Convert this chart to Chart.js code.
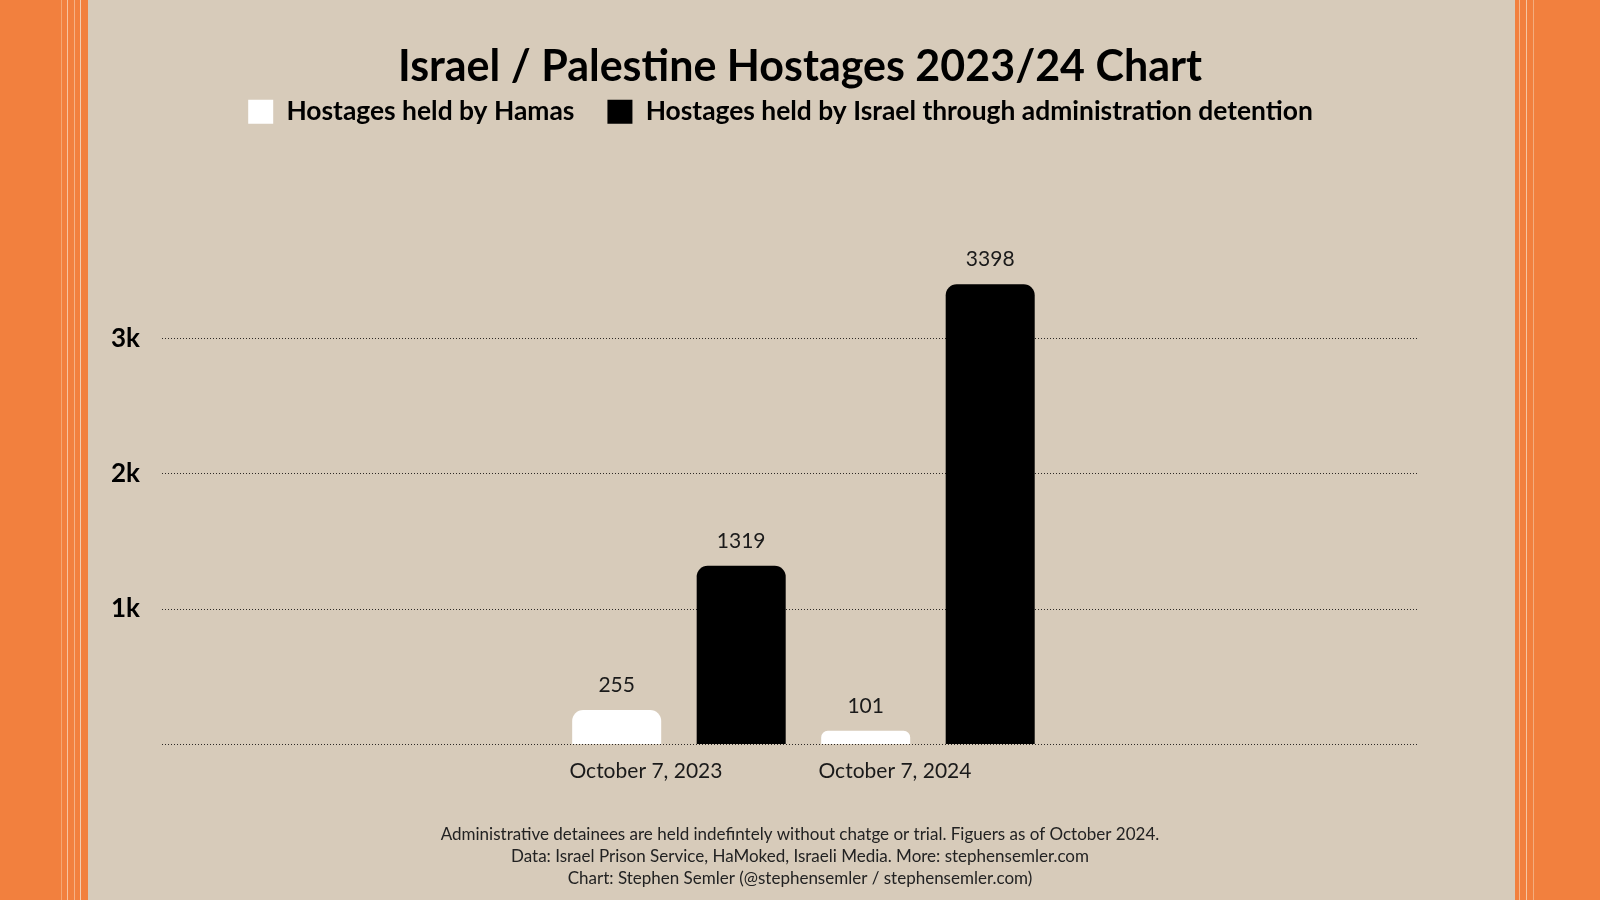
<!DOCTYPE html>
<html>
<head>
<meta charset="utf-8">
<script src="https://cdn.jsdelivr.net/npm/chart.js@4.4.1/dist/chart.umd.min.js"></script>
<style>
  html, body { margin: 0; padding: 0; }
  body {
    width: 1600px;
    height: 900px;
    overflow: hidden;
    background: linear-gradient(to right,
      #f2803e 0 61px, #f4a774 61px 62px, #f2803e 62px 67px, #f6c3a0 67px 68px,
      #f2803e 68px 74px, #f5b185 74px 75px, #f2803e 75px 80px, #f3cdb2 80px 81px,
      #f2803e 81px 88px, #d7cbba 88px 1515px,
      #f2803e 1515px 1519px, #f5b88e 1519px 1520px, #f2803e 1520px 1526px,
      #f6c6a3 1526px 1527px, #f2803e 1527px 1533px, #f4ad7e 1533px 1534px,
      #f2803e 1534px 1600px);
  }
  #wrap { position: absolute; left: 0; top: 0; width: 1600px; height: 900px; }
</style>
</head>
<body>
<div id="wrap"><canvas id="hostages" width="1600" height="900"></canvas></div>
<script>
const categories = ["October 7, 2023", "October 7, 2024"];
const heldByHamas = [255, 101];
const heldByIsrael = [1319, 3398];
const yTicks = [0, 1000, 2000, 3000];

const FONT = "Lato, 'Open Sans', sans-serif";

// value labels over each bar
const valueLabels = {
  id: "valueLabels",
  afterDatasetsDraw(chart) {
    const ctx = chart.ctx;
    ctx.save();
    ctx.font = `21px ${FONT}`;
    ctx.fillStyle = "#1a1a1a";
    ctx.textAlign = "center";
    ctx.textBaseline = "middle";
    chart.data.datasets.forEach((ds, i) => {
      chart.getDatasetMeta(i).data.forEach((bar, j) => {
        ctx.fillText(ds.data[j].y, bar.x, bar.y - 25);
      });
    });
    ctx.restore();
  },
};

// the legend sits a little left of the plot centre in the original
const legendShift = {
  id: "legendShift",
  afterLayout(chart) {
    chart.legend.left -= 9;
    chart.legend.right -= 9;
  },
};

const ctx = document.getElementById("hostages").getContext("2d");

new Chart(ctx, {
  type: "bar",
  data: {
    datasets: [
      {
        label: "Hostages held by Hamas",
        data: heldByHamas.map((v, i) => ({ x: i, y: v })),
        backgroundColor: "#ffffff",
        borderWidth: 0,
        borderRadius: 11,
      },
      {
        label: "Hostages held by Israel through administration detention",
        data: heldByIsrael.map((v, i) => ({ x: i, y: v })),
        backgroundColor: "#000000",
        borderWidth: 0,
        borderRadius: 11,
      },
    ],
  },
  options: {
    responsive: false,
    animation: false,
    categoryPercentage: 1.0,
    barPercentage: 0.715,
    layout: { padding: 0 },
    plugins: {
      title: {
        display: true,
        text: "Israel / Palestine Hostages 2023/24 Chart",
        color: "#000",
        font: { family: FONT, size: 43, weight: "bold", lineHeight: 1.2 },
        padding: { top: 41, bottom: -27 },
      },
      legend: {
        position: "top",
        fullSize: false,
        labels: {
          color: "#000",
          boxWidth: 25,
          boxHeight: 24,
          padding: 33,
          font: { family: FONT, size: 26.4, weight: "bold" },
        },
      },
      subtitle: {
        display: true,
        position: "bottom",
        text: [
          "Administrative detainees are held indefintely without chatge or trial. Figuers as of October 2024.",
          "Data: Israel Prison Service, HaMoked, Israeli Media. More: stephensemler.com",
          "Chart: Stephen Semler (@stephensemler / stephensemler.com)",
        ],
        color: "#222",
        font: { family: FONT, size: 17, lineHeight: 1.3 },
        padding: { top: 34, bottom: 10 },
      },
      tooltip: { enabled: false },
    },
    scales: {
      x: {
        type: "linear",
        offset: false,
        min: -2.076,
        max: 2.964,
        grid: { display: false },
        border: { display: false },
        afterBuildTicks: (axis) => {
          axis.ticks = categories.map((c, i) => ({ value: i }));
        },
        ticks: {
          callback: (value) => categories[value],
          labelOffset: -33,
          padding: 6,
          color: "#1a1a1a",
          font: { family: FONT, size: 21 },
        },
      },
      y: {
        min: 0,
        max: 4500,
        afterBuildTicks: (axis) => {
          axis.ticks = yTicks.map((v) => ({ value: v }));
        },
        afterFit: (axis) => {
          axis.width = 162;
        },
        border: { display: false, dash: [1, 2] },
        grid: {
          color: "#2e2a26",
          lineWidth: 1,
          drawTicks: false,
        },
        ticks: {
          callback: (value) => (value ? `${value / 1000}k` : ""),
          padding: 22,
          color: "#000",
          font: { family: FONT, size: 26, weight: "bold" },
        },
      },
      spacer: {
        type: "linear",
        position: "right",
        display: true,
        grid: { display: false },
        border: { display: false },
        ticks: { display: false },
        afterFit: (axis) => {
          axis.width = 183;
        },
      },
    },
  },
  plugins: [valueLabels, legendShift],
});
</script>
</body>
</html>
